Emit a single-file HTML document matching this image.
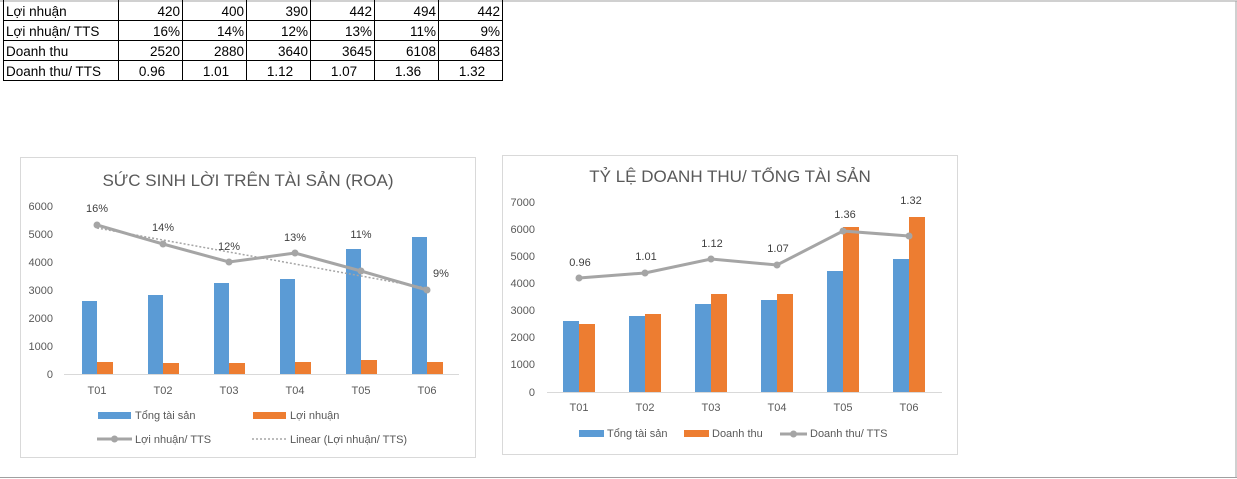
<!DOCTYPE html>
<html><head><meta charset="utf-8"><style>
html,body{margin:0;padding:0;background:#fff;}
svg{display:block;font-family:"Liberation Sans",sans-serif;}
</style></head><body>
<svg width="1237" height="479" viewBox="0 0 1237 479" xmlns="http://www.w3.org/2000/svg">
<rect width="1237" height="479" fill="#fff"/>
<line x1="0" y1="1" x2="1237" y2="1" stroke="#a0a0a0"/>
<line x1="1236" y1="1" x2="1236" y2="478" stroke="#a0a0a0"/>
<line x1="0" y1="477.5" x2="1237" y2="477.5" stroke="#a0a0a0"/>
<!-- table -->
<g stroke="#000" stroke-width="1" fill="none">
<line x1="3.5" y1="0" x2="3.5" y2="81"/>
<line x1="118.5" y1="0" x2="118.5" y2="81"/>
<line x1="182.5" y1="0" x2="182.5" y2="81"/>
<line x1="246.5" y1="0" x2="246.5" y2="81"/>
<line x1="310.5" y1="0" x2="310.5" y2="81"/>
<line x1="374.5" y1="0" x2="374.5" y2="81"/>
<line x1="438.5" y1="0" x2="438.5" y2="81"/>
<line x1="502.5" y1="0" x2="502.5" y2="81"/>
<line x1="3" y1="20.5" x2="503" y2="20.5"/>
<line x1="3" y1="40.5" x2="503" y2="40.5"/>
<line x1="3" y1="60.5" x2="503" y2="60.5"/>
<line x1="3" y1="80.5" x2="503" y2="80.5"/>
</g>
<g font-size="13.5" fill="#000">
<text x="6" y="16">Lợi nhuận</text>
<text x="6" y="36">Lợi nhuận/ TTS</text>
<text x="6" y="56">Doanh thu</text>
<text x="6" y="76">Doanh thu/ TTS</text>
<g text-anchor="end">
<text x="180" y="16">420</text><text x="244" y="16">400</text><text x="308" y="16">390</text><text x="372" y="16">442</text><text x="436" y="16">494</text><text x="500" y="16">442</text>
<text x="180" y="36">16%</text><text x="244" y="36">14%</text><text x="308" y="36">12%</text><text x="372" y="36">13%</text><text x="436" y="36">11%</text><text x="500" y="36">9%</text>
<text x="180" y="56">2520</text><text x="244" y="56">2880</text><text x="308" y="56">3640</text><text x="372" y="56">3645</text><text x="436" y="56">6108</text><text x="500" y="56">6483</text>
</g>
<g text-anchor="middle">
<text x="152" y="76">0.96</text><text x="216" y="76">1.01</text><text x="280" y="76">1.12</text><text x="344" y="76">1.07</text><text x="408" y="76">1.36</text><text x="472" y="76">1.32</text>
</g>
</g>

<!-- chart 1 -->
<rect x="20.5" y="157.5" width="455" height="300" fill="#fff" stroke="#d9d9d9"/>
<text x="248" y="186" font-size="17" fill="#595959" text-anchor="middle">SỨC SINH LỜI TRÊN TÀI SẢN (ROA)</text>
<g font-size="11" fill="#595959" text-anchor="end">
<text x="53" y="210">6000</text><text x="53" y="238">5000</text><text x="53" y="266">4000</text><text x="53" y="294">3000</text><text x="53" y="322">2000</text><text x="53" y="350">1000</text><text x="53" y="378">0</text>
</g>
<line x1="64" y1="374.5" x2="459" y2="374.5" stroke="#d9d9d9"/>
<g fill="#5b9bd5">
<rect x="82" y="301" width="15" height="73"/><rect x="148" y="295" width="15" height="79"/><rect x="214" y="283" width="15" height="91"/><rect x="280" y="279" width="15" height="95"/><rect x="346" y="249" width="15" height="125"/><rect x="412" y="237" width="15" height="137"/>
</g>
<g fill="#ed7d31">
<rect x="97" y="362" width="16" height="12"/><rect x="163" y="363" width="16" height="11"/><rect x="229" y="363" width="16" height="11"/><rect x="295" y="362" width="16" height="12"/><rect x="361" y="360" width="16" height="14"/><rect x="427" y="362" width="16" height="12"/>
</g>
<line x1="97" y1="228" x2="427" y2="288" stroke="#a5a5a5" stroke-width="1.5" stroke-dasharray="2,2"/>
<polyline points="97,225 163,244 229,262 295,253 361,271 427,290" fill="none" stroke="#a5a5a5" stroke-width="3"/>
<g fill="#a5a5a5"><circle cx="97" cy="225" r="3.5"/><circle cx="163" cy="244" r="3.5"/><circle cx="229" cy="262" r="3.5"/><circle cx="295" cy="253" r="3.5"/><circle cx="361" cy="271" r="3.5"/><circle cx="427" cy="290" r="3.5"/></g>
<g font-size="11" fill="#404040" text-anchor="middle">
<text x="97" y="212">16%</text><text x="163" y="231">14%</text><text x="229" y="250">12%</text><text x="295" y="241">13%</text><text x="361" y="238">11%</text><text x="441" y="277">9%</text>
</g>
<g font-size="11" fill="#595959" text-anchor="middle">
<text x="97" y="394">T01</text><text x="163" y="394">T02</text><text x="229" y="394">T03</text><text x="295" y="394">T04</text><text x="361" y="394">T05</text><text x="427" y="394">T06</text>
</g>
<rect x="98" y="412" width="33" height="7" fill="#5b9bd5"/>
<text x="135" y="419" font-size="11" fill="#595959">Tổng tài sản</text>
<rect x="253" y="412" width="33" height="7" fill="#ed7d31"/>
<text x="290" y="419" font-size="11" fill="#595959">Lợi nhuận</text>
<line x1="97" y1="439" x2="132" y2="439" stroke="#a5a5a5" stroke-width="3"/><circle cx="114.5" cy="439" r="3.5" fill="#a5a5a5"/>
<text x="135" y="443" font-size="11" fill="#595959">Lợi nhuận/ TTS</text>
<line x1="252" y1="439" x2="287" y2="439" stroke="#a5a5a5" stroke-width="1.5" stroke-dasharray="2,2"/>
<text x="290" y="443" font-size="11" fill="#595959">Linear (Lợi nhuận/ TTS)</text>

<!-- chart 2 -->
<rect x="502.5" y="155.5" width="455" height="299" fill="#fff" stroke="#d9d9d9"/>
<text x="730" y="182" font-size="17" fill="#595959" text-anchor="middle">TỶ LỆ DOANH THU/ TỔNG TÀI SẢN</text>
<g font-size="11" fill="#595959" text-anchor="end">
<text x="535" y="206">7000</text><text x="535" y="233">6000</text><text x="535" y="260">5000</text><text x="535" y="287">4000</text><text x="535" y="314">3000</text><text x="535" y="341">2000</text><text x="535" y="368">1000</text><text x="535" y="396">0</text>
</g>
<line x1="547" y1="392.5" x2="942" y2="392.5" stroke="#d9d9d9"/>
<g fill="#5b9bd5">
<rect x="563" y="321" width="16" height="71"/><rect x="629" y="316" width="16" height="76"/><rect x="695" y="304" width="16" height="88"/><rect x="761" y="300" width="16" height="92"/><rect x="827" y="271" width="16" height="121"/><rect x="893" y="259" width="16" height="133"/>
</g>
<g fill="#ed7d31">
<rect x="579" y="324" width="16" height="68"/><rect x="645" y="314" width="16" height="78"/><rect x="711" y="294" width="16" height="98"/><rect x="777" y="294" width="16" height="98"/><rect x="843" y="227" width="16" height="165"/><rect x="909" y="217" width="16" height="175"/>
</g>
<polyline points="579,278 645,273 711,259 777,265 843,231 909,236" fill="none" stroke="#a5a5a5" stroke-width="3"/>
<g fill="#a5a5a5"><circle cx="579" cy="278" r="3.5"/><circle cx="645" cy="273" r="3.5"/><circle cx="711" cy="259" r="3.5"/><circle cx="777" cy="265" r="3.5"/><circle cx="843" cy="231" r="3.5"/><circle cx="909" cy="236" r="3.5"/></g>
<g font-size="11" fill="#404040" text-anchor="middle">
<text x="580" y="266">0.96</text><text x="646" y="260">1.01</text><text x="712" y="247">1.12</text><text x="778" y="252">1.07</text><text x="845" y="218">1.36</text><text x="911" y="204">1.32</text>
</g>
<g font-size="11" fill="#595959" text-anchor="middle">
<text x="579" y="411">T01</text><text x="645" y="411">T02</text><text x="711" y="411">T03</text><text x="777" y="411">T04</text><text x="843" y="411">T05</text><text x="909" y="411">T06</text>
</g>
<rect x="579" y="430" width="25" height="7" fill="#5b9bd5"/>
<text x="607" y="437" font-size="11" fill="#595959">Tổng tài sản</text>
<rect x="684" y="430" width="25" height="7" fill="#ed7d31"/>
<text x="712" y="437" font-size="11" fill="#595959">Doanh thu</text>
<line x1="780" y1="434" x2="807" y2="434" stroke="#a5a5a5" stroke-width="3"/><circle cx="793.5" cy="434" r="3.5" fill="#a5a5a5"/>
<text x="810" y="437" font-size="11" fill="#595959">Doanh thu/ TTS</text>
</svg>
</body></html>
